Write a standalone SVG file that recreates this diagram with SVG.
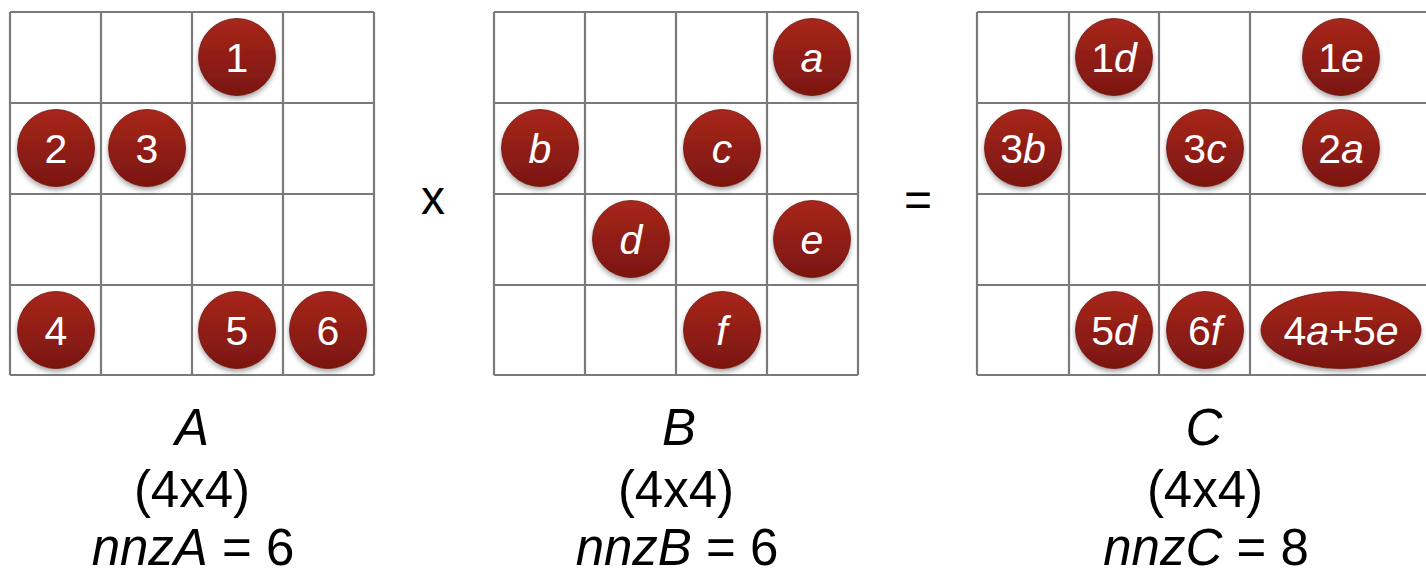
<svg xmlns="http://www.w3.org/2000/svg" width="1426" height="576" viewBox="0 0 1426 576">
<defs>
<linearGradient id="red" x1="0" y1="0" x2="0" y2="1">
<stop offset="0" stop-color="#a8261b"/>
<stop offset="1" stop-color="#7a1610"/>
</linearGradient>
<filter id="sh" x="-30%" y="-30%" width="160%" height="170%">
<feDropShadow dx="0" dy="3" stdDeviation="2.5" flood-color="#000" flood-opacity="0.35"/>
</filter>
</defs>
<style>
.grid line{stroke:#7a7a7a;stroke-width:2.2}
.n{fill:url(#red);stroke:#6e140e;stroke-width:0.8;filter:url(#sh)}
.t{fill:#fff;font-family:"Liberation Sans",Arial,sans-serif;font-size:41px;text-anchor:middle}
.i{font-style:italic}
.lab{fill:#000;font-family:"Liberation Sans",Arial,sans-serif;font-size:51px;text-anchor:middle}
.op{fill:#000;font-family:"Liberation Sans",Arial,sans-serif;font-size:48px;text-anchor:middle}
</style>
<rect width="1426" height="576" fill="#fff"/>
<g id="gridA" class="grid">
<line x1="10" y1="12" x2="374" y2="12"/><line x1="10" y1="103" x2="374" y2="103"/><line x1="10" y1="194" x2="374" y2="194"/><line x1="10" y1="285" x2="374" y2="285"/><line x1="10" y1="375" x2="374" y2="375"/>
<line x1="10" y1="12" x2="10" y2="375"/><line x1="101" y1="12" x2="101" y2="375"/><line x1="192" y1="12" x2="192" y2="375"/><line x1="283" y1="12" x2="283" y2="375"/><line x1="374" y1="12" x2="374" y2="375"/>
</g>
<g id="gridB" class="grid">
<line x1="494" y1="12" x2="858" y2="12"/><line x1="494" y1="103" x2="858" y2="103"/><line x1="494" y1="194" x2="858" y2="194"/><line x1="494" y1="285" x2="858" y2="285"/><line x1="494" y1="375" x2="858" y2="375"/>
<line x1="494" y1="12" x2="494" y2="375"/><line x1="585" y1="12" x2="585" y2="375"/><line x1="676" y1="12" x2="676" y2="375"/><line x1="767" y1="12" x2="767" y2="375"/><line x1="858" y1="12" x2="858" y2="375"/>
</g>
<g id="gridC" class="grid">
<line x1="977" y1="12" x2="1432" y2="12"/><line x1="977" y1="103" x2="1432" y2="103"/><line x1="977" y1="194" x2="1432" y2="194"/><line x1="977" y1="285" x2="1432" y2="285"/><line x1="977" y1="375" x2="1432" y2="375"/>
<line x1="977" y1="12" x2="977" y2="375"/><line x1="1069" y1="12" x2="1069" y2="375"/><line x1="1159" y1="12" x2="1159" y2="375"/><line x1="1250" y1="12" x2="1250" y2="375"/>
</g>
<g id="A1"><circle class="n" cx="237" cy="57" r="38.5"/><text class="t" x="237" y="72">1</text></g>
<g id="A2"><circle class="n" cx="56" cy="148" r="38.5"/><text class="t" x="56" y="163">2</text></g>
<g id="A3"><circle class="n" cx="147" cy="148" r="38.5"/><text class="t" x="147" y="163">3</text></g>
<g id="A4"><circle class="n" cx="56" cy="330" r="38.5"/><text class="t" x="56" y="345">4</text></g>
<g id="A5"><circle class="n" cx="237" cy="330" r="38.5"/><text class="t" x="237" y="345">5</text></g>
<g id="A6"><circle class="n" cx="328" cy="330" r="38.5"/><text class="t" x="328" y="345">6</text></g>
<g id="Ba"><circle class="n" cx="812" cy="57" r="38.5"/><text class="t i" x="812" y="72">a</text></g>
<g id="Bb"><circle class="n" cx="540" cy="148" r="38.5"/><text class="t i" x="540" y="163">b</text></g>
<g id="Bc"><circle class="n" cx="722" cy="148" r="38.5"/><text class="t i" x="722" y="163">c</text></g>
<g id="Bd"><circle class="n" cx="631" cy="239" r="38.5"/><text class="t i" x="631" y="254">d</text></g>
<g id="Be"><circle class="n" cx="812" cy="239" r="38.5"/><text class="t i" x="812" y="254">e</text></g>
<g id="Bf"><circle class="n" cx="722" cy="330" r="38.5"/><text class="t i" x="722" y="345">f</text></g>
<g id="C1d"><circle class="n" cx="1114" cy="57" r="38.5"/><text class="t" x="1114" y="72">1<tspan class="i">d</tspan></text></g>
<g id="C1e"><circle class="n" cx="1341" cy="57" r="38.5"/><text class="t" x="1341" y="72">1<tspan class="i">e</tspan></text></g>
<g id="C3b"><circle class="n" cx="1023" cy="148" r="38.5"/><text class="t" x="1023" y="163">3<tspan class="i">b</tspan></text></g>
<g id="C3c"><circle class="n" cx="1205" cy="148" r="38.5"/><text class="t" x="1205" y="163">3<tspan class="i">c</tspan></text></g>
<g id="C2a"><circle class="n" cx="1341" cy="148" r="38.5"/><text class="t" x="1341" y="163">2<tspan class="i">a</tspan></text></g>
<g id="C5d"><circle class="n" cx="1114" cy="330" r="38.5"/><text class="t" x="1114" y="345">5<tspan class="i">d</tspan></text></g>
<g id="C6f"><circle class="n" cx="1205" cy="330" r="38.5"/><text class="t" x="1205" y="345">6<tspan class="i">f</tspan></text></g>
<g id="C4a5e"><ellipse class="n" cx="1341" cy="330" rx="80" ry="38.5"/><text class="t" x="1341" y="345">4<tspan class="i">a</tspan>+5<tspan class="i">e</tspan></text></g>
<g id="ops">
<text class="op" x="433" y="214">x</text>
<text class="op" x="918" y="216">=</text>
</g>
<g id="labelA">
<text class="lab i" x="192" y="445">A</text>
<text class="lab" x="192" y="507">(4x4)</text>
<text class="lab" x="193" y="565"><tspan class="i">nnzA</tspan> = 6</text>
</g>
<g id="labelB">
<text class="lab i" x="679" y="445">B</text>
<text class="lab" x="676" y="507">(4x4)</text>
<text class="lab" x="677" y="565"><tspan class="i">nnzB</tspan> = 6</text>
</g>
<g id="labelC">
<text class="lab i" x="1204" y="445">C</text>
<text class="lab" x="1205" y="507">(4x4)</text>
<text class="lab" x="1206" y="565"><tspan class="i">nnzC</tspan> = 8</text>
</g>
</svg>
